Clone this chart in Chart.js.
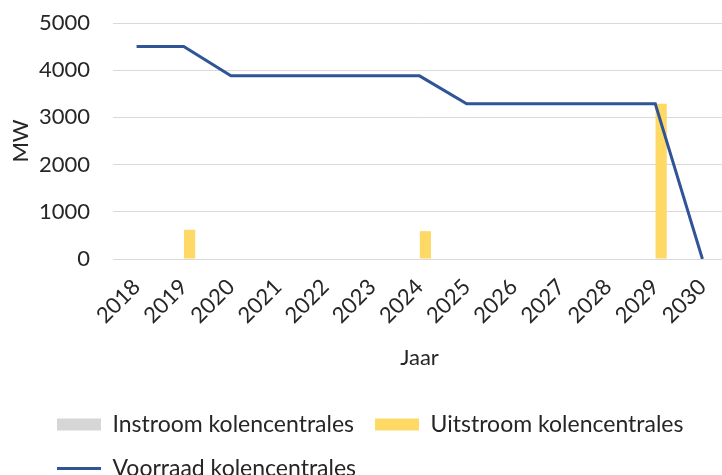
<!DOCTYPE html>
<html>
<head>
<meta charset="utf-8">
<script src="https://cdn.jsdelivr.net/npm/chart.js@4"></script>
<style>
  html, body { margin: 0; padding: 0; overflow: hidden; background: #fff; }
  #wrap { width: 726px; height: 490px; }
</style>
</head>
<body>
<div id="wrap"><canvas id="chart" width="726" height="490"></canvas></div>
<script>
/* ===== Kolencentrales: instroom, uitstroom en voorraad ===== */

// Data
const years = ["2018", "2019", "2020", "2021", "2022", "2023", "2024",
               "2025", "2026", "2027", "2028", "2029", "2030"];
const instroom = [0, 0, 0, 0, 0, 0, 0, 0, 0, 0, 0, 0, 0];
const uitstroom = [0, 620, 0, 0, 0, 0, 590, 0, 0, 0, 0, 3290, 0];
const voorraad = [4500, 4500, 3880, 3880, 3880, 3880, 3880,
                  3290, 3290, 3290, 3290, 3290, 0];
const yTicks = [0, 1000, 2000, 3000, 4000, 5000];

const textColor = "#262626";
const fontFamily = "Lato, 'Open Sans', sans-serif";
const clear = "rgba(0,0,0,0)";

// legend starts further right than Chart.js puts it
const legendShift = {
  id: "legendShift",
  afterLayout(chart) {
    chart.legend.left += 36;
  }
};

const ctx = document.getElementById("chart").getContext("2d");
new Chart(ctx, {
  type: "bar",
  data: {
    labels: years,
    datasets: [
      {
        type: "line",
        label: "Voorraad kolencentrales",
        data: voorraad,
        borderColor: "#2f5597",
        backgroundColor: "#2f5597",
        borderWidth: 3,
        pointRadius: 0,
        pointStyle: "line",
        tension: 0,
        order: 0
      },
      {
        label: "Instroom kolencentrales",
        data: instroom,
        backgroundColor: "#d6d6d6",
        pointStyle: "rect",
        order: 1
      },
      {
        label: "Uitstroom kolencentrales",
        data: uitstroom,
        backgroundColor: "#ffd966",
        pointStyle: "rect",
        order: 1
      }
    ]
  },
  options: {
    responsive: false,
    animation: false,
    layout: { padding: { top: 23, left: 0, right: 0, bottom: 0 } },
    datasets: {
      bar: { categoryPercentage: 0.5, barPercentage: 0.95 }
    },
    plugins: {
      legend: {
        position: "bottom",
        align: "start",
        labels: {
          usePointStyle: true,
          pointStyleWidth: 44,
          boxHeight: 12,
          padding: 21,
          color: textColor,
          font: { family: fontFamily, size: 23 },
          sort: (a, b) => [1, 2, 0].indexOf(a.datasetIndex) - [1, 2, 0].indexOf(b.datasetIndex)
        }
      },
      tooltip: { enabled: false }
    },
    scales: {
      x: {
        offset: true,
        // invisible ticks push the rotated labels down
        grid: { display: true, drawOnChartArea: false, color: clear, tickColor: clear, drawTicks: true, tickLength: 12 },
        border: { display: false },
        ticks: {
          color: textColor,
          font: { family: fontFamily, size: 22 },
          maxRotation: 45,
          minRotation: 45,
          padding: 3
        },
        title: {
          display: true,
          text: "Jaar",
          color: textColor,
          font: { family: fontFamily, size: 22 },
          padding: { top: 0, bottom: 21 }
        },
        afterFit(scale) { scale.height = 133; }
      },
      y: {
        min: 0,
        max: 5000,
        // invisible tick marks keep the labels away from the plot
        grid: { color: "#d9d9d9", lineWidth: 1, drawTicks: true, tickLength: 20, tickColor: clear },
        border: { display: false },
        afterBuildTicks(scale) { scale.ticks = yTicks.map(v => ({ value: v })); },
        ticks: {
          color: textColor,
          font: { family: fontFamily, size: 22 },
          padding: 3,
          callback: v => String(v)
        },
        title: {
          display: true,
          text: "MW",
          color: textColor,
          font: { family: fontFamily, size: 22 },
          padding: { top: 8, bottom: 0 }
        },
        afterFit(scale) { scale.width = 113; }
      }
    }
  },
  plugins: [legendShift]
});
</script>
</body>
</html>
